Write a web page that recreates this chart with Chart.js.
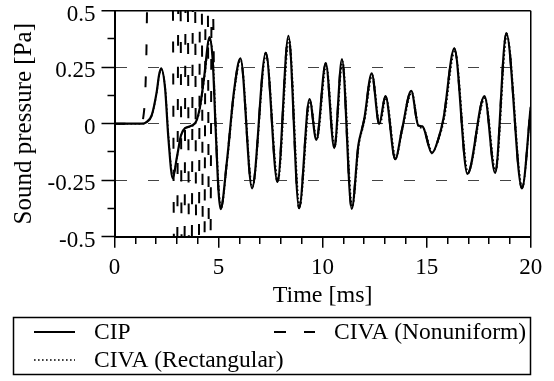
<!DOCTYPE html>
<html>
<head>
<meta charset="utf-8">
<script src="https://cdn.jsdelivr.net/npm/chart.js@4.4.1/dist/chart.umd.min.js"></script>
<style>
  html, body { margin: 0; padding: 0; background: #fff; }
</style>
</head>
<body>
<canvas id="pressureChart" width="554" height="381"></canvas>
<script>
// traces: time in ms, sound pressure in Pa
const cipTime = [0, 1.3, 1.5, 1.79, 2.03, 2.14, 2.24, 2.43, 2.59, 2.8, 2.99, 3.2, 3.39, 3.87, 4.1, 4.3, 4.57, 4.72, 4.85, 5.0,
  5.1, 5.4, 5.75, 6.05, 6.61, 7.27, 7.83, 8.36, 8.87, 9.37, 9.7, 10.15, 10.56, 10.93, 11.4, 11.72, 11.9, 12.0, 12.36, 12.72,
  13.02, 13.49, 13.81, 14.26, 14.6, 14.8, 15.25, 15.57, 15.81, 16.33, 16.96, 17.78, 18.29, 18.83, 19.58, 20];
const cipPressure = [0, 0, 0.005, 0.038, 0.142, 0.215, 0.245, 0.157, -0.065, -0.242, -0.153, -0.05, -0.02, 0.002, 0.07, 0.2, 0.383, 0.28, 0.0, -0.3,
  -0.378, -0.168, 0.15, 0.289, -0.286, 0.314, -0.257, 0.389, -0.374, 0.109, -0.072, 0.268, -0.108, 0.286, -0.377, -0.094, -0.02, 0.02, 0.223, -0.001,
  0.122, -0.157, -0.028, 0.145, -0.008, -0.012, -0.131, -0.065, 0.024, 0.333, -0.222, 0.122, -0.218, 0.4, -0.286, 0.075];

const rectTime = [0, 1.3, 1.5, 1.79, 2.03, 2.14, 2.25, 2.44, 2.6, 2.81, 3.0, 3.21, 3.4, 3.88, 4.11, 4.31, 4.59, 4.74, 4.87, 5.02,
  5.12, 5.42, 5.77, 6.07, 6.63, 7.29, 7.86, 8.39, 8.9, 9.4, 9.73, 10.18, 10.59, 10.96, 11.43, 11.75, 11.93, 12.04, 12.39, 12.75,
  13.05, 13.52, 13.84, 14.29, 14.63, 14.84, 15.28, 15.6, 15.84, 16.36, 16.99, 17.81, 18.32, 18.86, 19.6, 20];
const rectPressure = [0, 0, 0.005, 0.036, 0.138, 0.21, 0.24, 0.155, -0.06, -0.238, -0.15, -0.05, -0.02, 0.0, 0.066, 0.195, 0.372, 0.275, 0.0, -0.295,
  -0.37, -0.165, 0.146, 0.283, -0.28, 0.305, -0.25, 0.375, -0.365, 0.1, -0.07, 0.258, -0.1, 0.276, -0.368, -0.09, -0.02, 0.025, 0.215, -0.005,
  0.115, -0.15, -0.025, 0.138, -0.015, -0.02, -0.125, -0.062, 0.02, 0.322, -0.215, 0.115, -0.21, 0.39, -0.28, 0.07];

// nonuniform run blows up between ~1.5 and ~4.8 ms (runs off the top/bottom of the axes)
const nonuniformTime = [0, 1.3, 1.4, 1.47, 1.53, 1.58, 2.8, 2.86, 3.01, 3.07, 3.17, 3.23, 3.36, 3.42, 3.52, 3.58, 3.71, 3.77, 3.87, 3.93,
  4.05, 4.11, 4.19, 4.25, 4.32, 4.38, 4.48, 4.54, 4.61, 4.67, 4.72, 4.8, 4.85, 5.0, 5.1, 5.4, 5.75, 6.05, 6.61, 7.27,
  7.83, 8.36, 8.87, 9.37, 9.7, 10.15, 10.56, 10.93, 11.4, 11.72, 11.9, 12.0, 12.36, 12.72, 13.02, 13.49, 13.81, 14.26, 14.6, 14.8,
  15.25, 15.57, 15.81, 16.33, 16.96, 17.78, 18.29, 18.83, 19.58, 20];
const nonuniformPressure = [0, 0, 0.04, 0.12, 0.3, 0.56, 0.56, -0.56, -0.56, 0.56, 0.56, -0.56, -0.56, 0.56, 0.56, -0.56, -0.56, 0.56, 0.56, -0.56,
  -0.56, 0.56, 0.56, -0.56, -0.56, 0.56, 0.56, -0.56, -0.56, 0.56, 0.56, 0.1, 0.0, -0.3, -0.378, -0.168, 0.15, 0.289, -0.286, 0.314,
  -0.257, 0.389, -0.374, 0.109, -0.072, 0.268, -0.108, 0.286, -0.377, -0.094, -0.02, 0.02, 0.223, -0.001, 0.122, -0.157, -0.028, 0.145, -0.008, -0.012,
  -0.131, -0.065, 0.024, 0.333, -0.222, 0.122, -0.218, 0.4, -0.286, 0.075];

const xTickLabels = [0, 5, 10, 15, 20];
const yTickLabels = [0.5, 0.25, 0, -0.25, -0.5];
const yGridLines = [0.25, 0, -0.25];

function toPoints(xs, ys) {
    return xs.map((x, i) => ({x: x, y: ys[i]}));
}

// boxed legend below the plot, two columns like the original
const boxedLegend = {
    id: 'boxedLegend',
    afterDraw(chart) {
        const ctx = chart.ctx;
        const ds = chart.data.datasets;
        const slots = [[34, 332], [34, 360], [274, 332]];
        ctx.save();
        ctx.strokeStyle = '#000';
        ctx.lineWidth = 1.5;
        ctx.strokeRect(13.5, 317.5, 517, 57);
        ctx.font = "23.5px 'Liberation Serif'";
        ctx.fillStyle = '#000';
        ctx.textBaseline = 'middle';
        ds.forEach((d, i) => {
            const [x, y] = slots[i];
            ctx.beginPath();
            ctx.setLineDash(d.legendDash || []);
            ctx.lineWidth = d.borderWidth;
            ctx.moveTo(x, y);
            ctx.lineTo(x + 41, y);
            ctx.stroke();
            ctx.setLineDash([]);
            ctx.fillText(d.label, x + 60, y + 1);
        });
        ctx.restore();
    }
};

Chart.defaults.font.family = "'Liberation Serif', 'Times New Roman', serif";
Chart.defaults.font.size = 23;
Chart.defaults.color = '#000';

let ctxP = document.getElementById('pressureChart').getContext('2d');
new Chart(ctxP, {
    type: 'line',
    data: {
        datasets: [{
            label: 'CIP',
            data: toPoints(cipTime, cipPressure),
            borderColor: '#000',
            borderWidth: 2.2,
            cubicInterpolationMode: 'monotone'
        },
            {
                label: 'CIVA (Rectangular)',
                data: toPoints(rectTime, rectPressure),
                borderColor: '#000',
                borderWidth: 1.6,
                borderDash: [1.6, 2.4],
                legendDash: [1.6, 2.4],
                cubicInterpolationMode: 'monotone'
            },
            {
                label: 'CIVA (Nonuniform)',
                data: toPoints(nonuniformTime, nonuniformPressure),
                borderColor: '#000',
                borderWidth: 2,
                borderDash: [11, 21],
                legendDash: [12, 18],
                cubicInterpolationMode: 'monotone'
            }
        ]
    },
    options: {
        responsive: false,
        animation: false,
        devicePixelRatio: 1,
        layout: {padding: {top: 10.7, right: 23.3, left: 0, bottom: 64.3}},
        elements: {point: {radius: 0}},
        plugins: {legend: {display: false}, tooltip: {enabled: false}},
        scales: {
            x: {
                type: 'linear',
                min: 0,
                max: 20,
                afterFit: s => { s.height = 80; s.paddingLeft = 0; s.paddingRight = 0; },
                ticks: {
                    stepSize: 1,
                    autoSkip: false,
                    maxRotation: 0,
                    padding: 6,
                    callback: v => xTickLabels.includes(v) ? String(v) : ''
                },
                grid: {
                    color: c => (c.tick && c.tick.value === 20) ? '#000' : 'rgba(0,0,0,0)',
                    lineWidth: 1.5,
                    tickLength: 11,
                    tickColor: '#000',
                    tickWidth: 1.5,
                    tickBorderDash: c => (c.tick && xTickLabels.includes(c.tick.value)) ? [] : [6, 40]
                },
                border: {color: '#000', width: 2},
                title: {display: true, text: 'Time [ms]', font: {size: 24}, padding: {top: 0, bottom: 7}}
            },
            y: {
                min: -0.5,
                max: 0.5,
                afterFit: s => { s.width = 114.5; s.paddingTop = 0; s.paddingBottom = 0; },
                ticks: {
                    stepSize: 0.125,
                    autoSkip: false,
                    padding: 6,
                    labelOffset: 4,
                    callback: v => yTickLabels.includes(v) ? String(v) : ''
                },
                grid: {
                    color: c => {
                        if (!c.tick) return 'rgba(0,0,0,0)';
                        if (c.tick.value === 0.5) return '#000';
                        return yGridLines.includes(c.tick.value) ? '#444' : 'rgba(0,0,0,0)';
                    },
                    lineWidth: c => (c.tick && c.tick.value === 0.5) ? 1.5 : 1,
                    tickLength: 13,
                    tickColor: '#000',
                    tickWidth: 1.5,
                    tickBorderDash: c => (c.tick && yTickLabels.includes(c.tick.value)) ? [] : [0, 6, 40]
                },
                border: {
                    color: '#000',
                    width: 2,
                    dash: c => (c.tick && c.tick.value !== 0.5) ? [11, 21] : []
                },
                title: {display: true, text: 'Sound pressure [Pa]', font: {size: 25}, padding: {top: 9, bottom: 0}}
            }
        }
    },
    plugins: [boxedLegend]
});
</script>
</body>
</html>
